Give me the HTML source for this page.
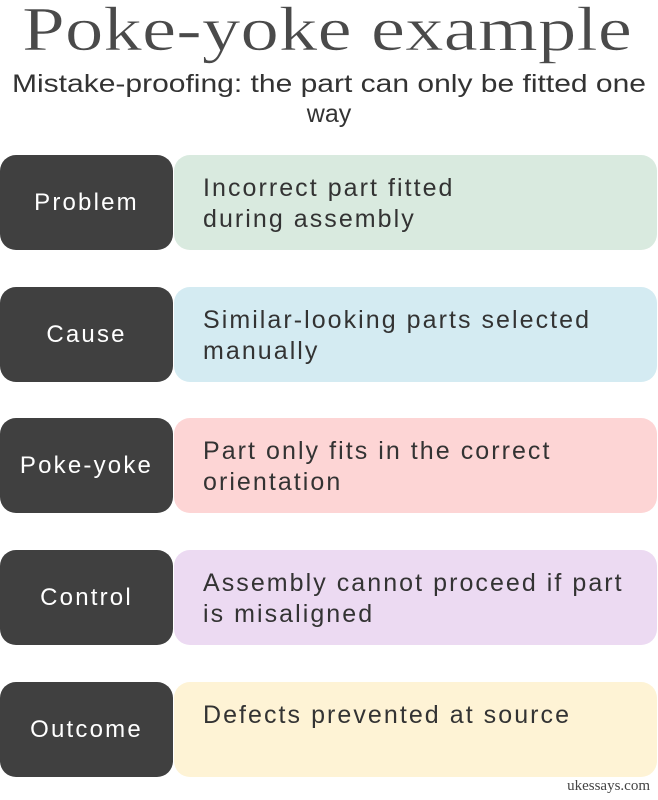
<!DOCTYPE html>
<html><head><meta charset="utf-8"><style>
body{margin:0;width:658px;height:800px;background:#fff;position:relative;overflow:hidden;font-family:"Liberation Sans",sans-serif;}
.d{position:absolute;left:0;width:173px;height:95px;background:#404040;border-radius:16px;color:#fff;font-size:24px;display:flex;align-items:center;justify-content:center;letter-spacing:2.2px}
.l{position:absolute;left:174px;width:483px;height:95px;border-radius:16px;color:#333;font-size:25px;line-height:31px;letter-spacing:2.05px;box-sizing:border-box;padding:18px 0 0 29px;white-space:nowrap}
</style></head><body>
<svg width="658" height="130" style="position:absolute;left:0;top:0">
<text x="22" y="50" textLength="610" lengthAdjust="spacingAndGlyphs" font-family="Liberation Serif,serif" font-size="62" fill="#4a4a4a" stroke="#fff" stroke-width="0.6">Poke-yoke example</text>
<text x="12" y="92" textLength="634" lengthAdjust="spacingAndGlyphs" font-family="Liberation Sans,sans-serif" font-size="25" fill="#333">Mistake-proofing: the part can only be fitted one</text>
<text x="329" y="122" text-anchor="middle" font-family="Liberation Sans,sans-serif" font-size="25" fill="#333">way</text>
</svg>
<div class="d" style="top:155px">Problem</div><div class="l" style="top:155px;background:#d9eadf">Incorrect part fitted<br>during assembly</div>
<div class="d" style="top:287px">Cause</div><div class="l" style="top:287px;background:#d4ebf2">Similar-looking parts selected<br>manually</div>
<div class="d" style="top:418px">Poke-yoke</div><div class="l" style="top:418px;background:#fdd5d5">Part only fits in the correct<br>orientation</div>
<div class="d" style="top:550px">Control</div><div class="l" style="top:550px;background:#ecdaf2">Assembly cannot proceed if part<br>is misaligned</div>
<div class="d" style="top:682px">Outcome</div><div class="l" style="top:682px;background:#fef3d5">Defects prevented at source</div>
<div style="position:absolute;right:8px;top:778px;font-family:'Liberation Serif',serif;font-size:15px;color:#444">ukessays.com</div>
</body></html>
